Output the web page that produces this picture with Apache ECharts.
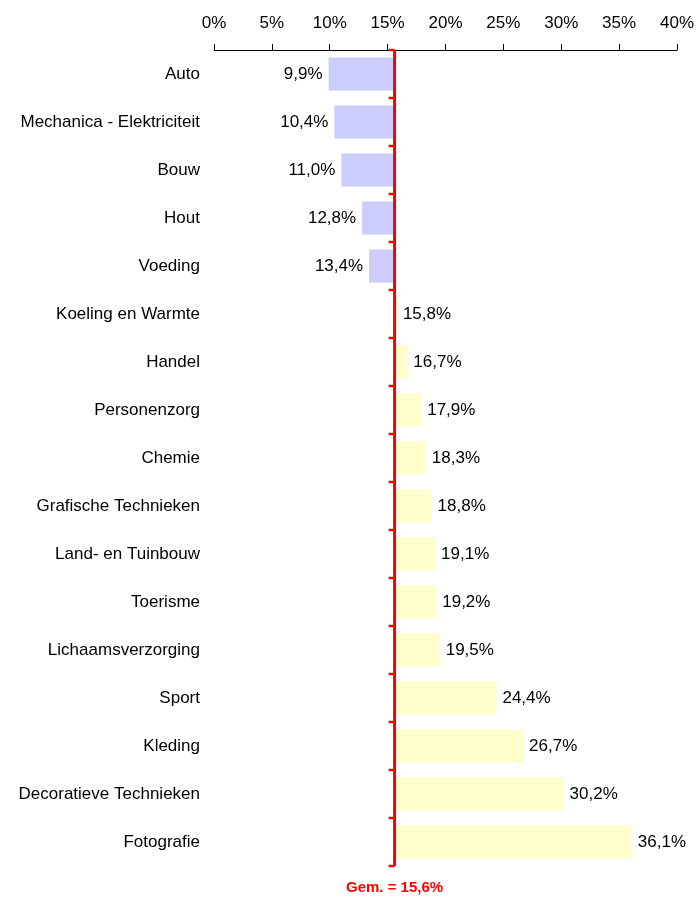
<!DOCTYPE html>
<html><head><meta charset="utf-8">
<script src="https://cdn.jsdelivr.net/npm/echarts@6/dist/echarts.min.js"></script>
<style>html,body{margin:0;padding:0;background:#fff}#c{width:697px;height:898px}</style>
</head><body><div id="c"></div>
<script>
const categories = ["Auto","Mechanica - Elektriciteit","Bouw","Hout","Voeding","Koeling en Warmte","Handel","Personenzorg","Chemie","Grafische Technieken","Land- en Tuinbouw","Toerisme","Lichaamsverzorging","Sport","Kleding","Decoratieve Technieken","Fotografie"];
const values = [9.9,10.4,11.0,12.8,13.4,15.8,16.7,17.9,18.3,18.8,19.1,19.2,19.5,24.4,26.7,30.2,36.1];
const average = 15.6;
const xTicks = {min:0, max:40, interval:5};

const FONT = '"Liberation Sans", Arial, Helvetica, sans-serif';
const fmt = v => v.toFixed(1).replace('.', ',') + '%';

const baseData = values.map(v => Math.min(v, average));
const diffData = values.map((v, i) => ({
  value: Math.abs(v - average),
  itemStyle: {color: v < average ? '#ccccff' : '#ffffcc'},
  label: {position: v < average ? 'left' : 'right'}
}));

const chart = echarts.init(document.getElementById('c'));
chart.setOption({
  animation: false,
  textStyle: {fontFamily: FONT},
  grid: {left: 214, right: 19, top: 50, bottom: 32},
  xAxis: {
    type: 'value', position: 'top', min: xTicks.min, max: xTicks.max, interval: xTicks.interval,
    axisLine: {show: true, lineStyle: {color: '#000', width: 1}},
    axisTick: {show: true, length: 6, lineStyle: {color: '#000'}},
    axisLabel: {formatter: '{value}%', color: '#000', fontSize: 17, margin: 18, fontFamily: FONT},
    splitLine: {show: false}
  },
  yAxis: {
    type: 'category', data: categories, inverse: true,
    axisLine: {show: false}, axisTick: {show: false},
    axisLabel: {color: '#000', fontSize: 17, margin: 14, fontFamily: FONT, padding: [4, 0, 0, 0]}
  },
  series: [
    {type: 'bar', stack: 'a', data: baseData, itemStyle: {color: 'transparent'}, barCategoryGap: '31%', silent: true},
    {type: 'bar', stack: 'a', data: diffData, barCategoryGap: '31%',
     label: {show: true, color: '#000', fontSize: 17, distance: 6, fontFamily: FONT, padding: [4, 0, 0, 0],
       formatter: p => fmt(values[p.dataIndex])}},
    {type: 'custom', clip: false, z: 10,
     data: categories.map((c, i) => [average, i]),
     encode: {x: 0, y: 1},
     renderItem: (params, api) => {
       const pt = api.coord([api.value(0), api.value(1)]);
       const h = api.size([0, 1])[1];
       const x = pt[0], top = pt[1] - h / 2, bot = pt[1] + h / 2;
       const st = {stroke: '#ff0000', lineWidth: 3};
       const children = [
         {type: 'line', shape: {x1: x, y1: top, x2: x, y2: bot}, style: st},
         {type: 'line', shape: {x1: x - 6, y1: top, x2: x, y2: top}, style: {stroke: '#ff0000', lineWidth: 2.5}}
       ];
       if (params.dataIndex === categories.length - 1) {
         children.push({type: 'line', shape: {x1: x - 6, y1: bot, x2: x, y2: bot}, style: {stroke: '#ff0000', lineWidth: 2.5}});
         children.push({type: 'text', style: {text: 'Gem. = ' + fmt(average), x: x, y: bot + 22,
           fill: '#ff0000', font: 'bold 15px ' + FONT, align: 'center', verticalAlign: 'middle'}});
       }
       return {type: 'group', children};
     }}
  ]
});
</script></body></html>
